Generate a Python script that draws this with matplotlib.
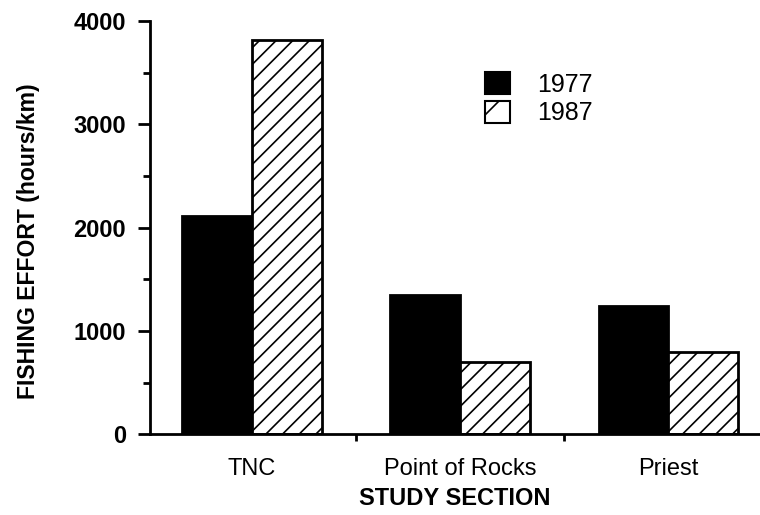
import matplotlib
matplotlib.use("Agg")
import matplotlib.pyplot as plt
from matplotlib.patches import Patch
from matplotlib.ticker import MultipleLocator
import numpy as np

plt.rcParams['font.family'] = ['Liberation Sans', 'DejaVu Sans']
plt.rcParams['hatch.linewidth'] = 1.2

sections = ["TNC", "Point of Rocks", "Priest"]
effort_1977 = [2110, 1350, 1240]
effort_1987 = [3820, 700, 795]
series_labels = ["1977", "1987"]
yticks = [0, 1000, 2000, 3000, 4000]

fig = plt.figure(figsize=(7.6, 5.15), dpi=100)
ax = fig.add_axes([0.197, 0.157, 0.803, 0.802])

x = np.arange(len(sections))
w = 0.335
ax.bar(x - w/2, effort_1977, width=w, color='black', edgecolor='black', linewidth=2)
ax.bar(x + w/2, effort_1987, width=w, color='white', edgecolor='black', linewidth=2, hatch='//')

ax.set_xlim(-0.49, 2.44)
ax.set_ylim(0, 4000)
ax.set_yticks(yticks)
ax.set_yticklabels([str(v) for v in yticks], fontsize=17, fontweight='bold')
ax.yaxis.set_minor_locator(MultipleLocator(500))

# x-axis: ticks between groups, labels at group centers
ax.set_xticks([0.5, 1.5])
ax.set_xticklabels([])
ax.set_xticks(x, minor=True)
ax.set_xticklabels(sections, minor=True, fontsize=17)
ax.tick_params(axis='x', which='minor', length=0, pad=17)
ax.tick_params(axis='x', which='major', length=5, width=2, direction='out')
ax.tick_params(axis='y', which='major', length=9, width=2, direction='out', pad=8)
ax.tick_params(axis='y', which='minor', length=5, width=2, direction='out')

for s in ['top', 'right']:
    ax.spines[s].set_visible(False)
for s in ['left', 'bottom']:
    ax.spines[s].set_linewidth(2)

ax.set_ylabel("FISHING EFFORT (hours/km)", fontsize=16.6, fontweight='bold')
ax.yaxis.set_label_coords(-0.179, 0.467)
ax.set_xlabel("STUDY SECTION", fontsize=17, fontweight='bold', labelpad=5)

handles = [Patch(facecolor='black', edgecolor='black', linewidth=1.5),
           Patch(facecolor='white', edgecolor='black', linewidth=1.5, hatch='/')]
leg = fig.legend(handles, series_labels, loc='upper left',
                 bbox_to_anchor=(485/760, 1 - 72/515), bbox_transform=fig.transFigure,
                 frameon=False, fontsize=18, handlelength=1.0, handleheight=1.0,
                 handletextpad=1.1, labelspacing=0.15, borderpad=0, borderaxespad=0)

fig.savefig("out.png", dpi=100)
